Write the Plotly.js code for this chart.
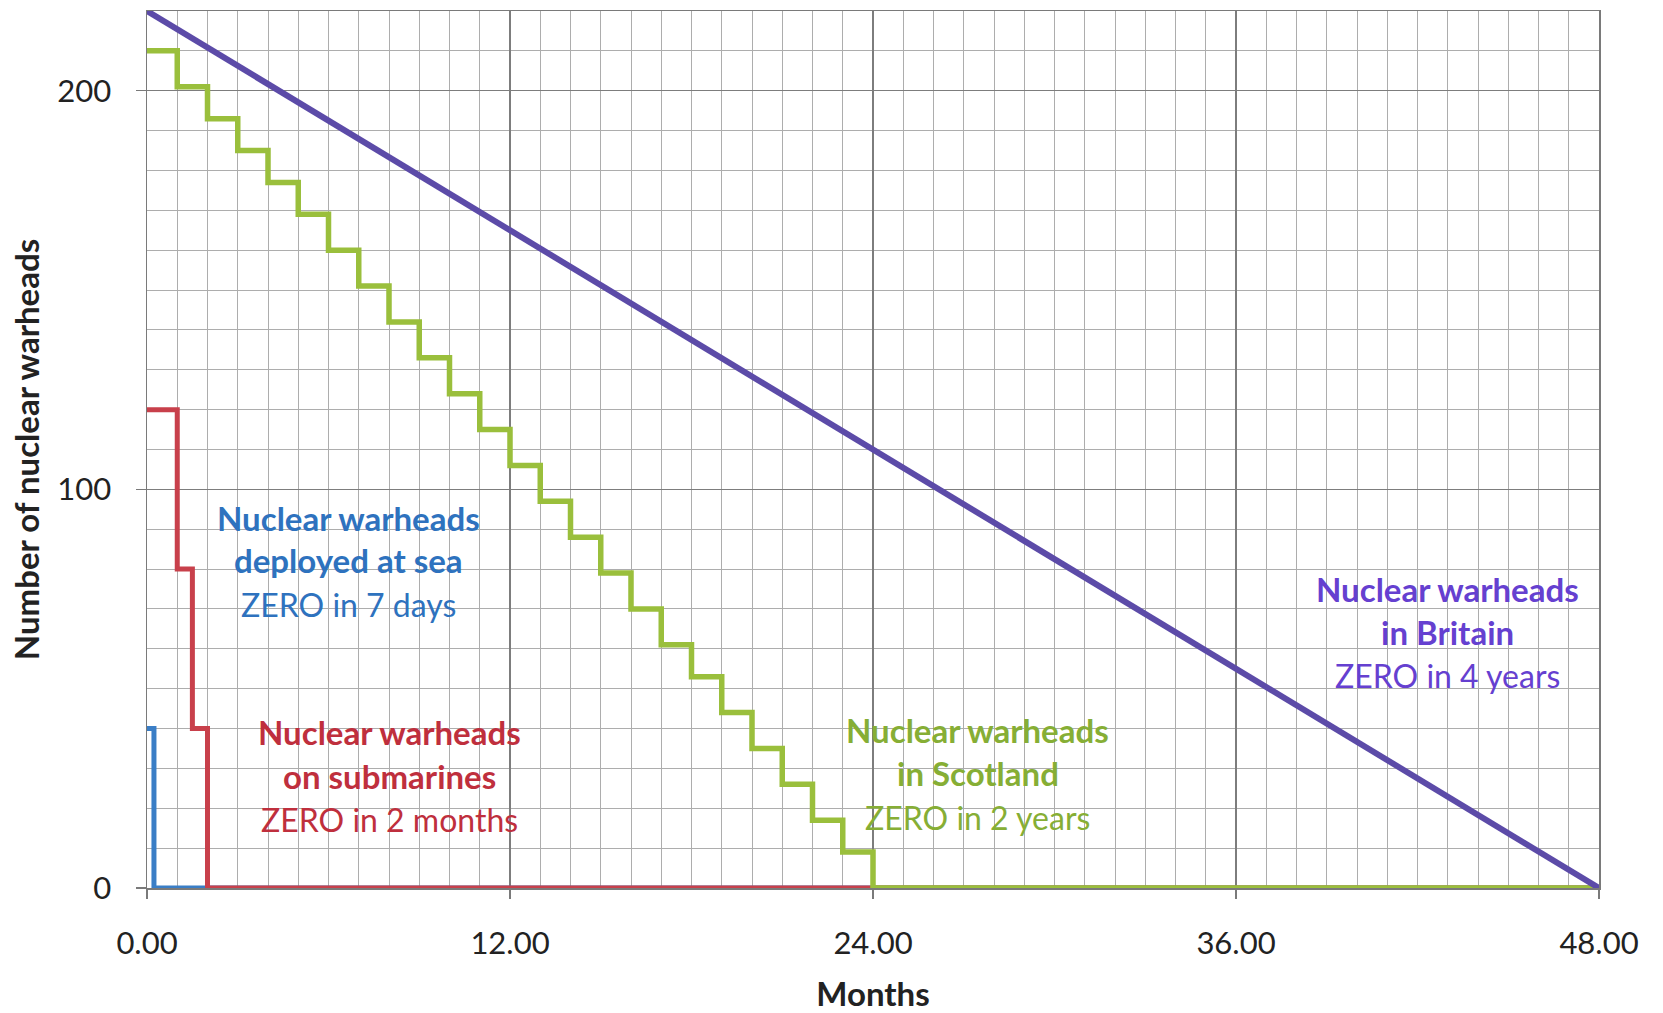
<!DOCTYPE html>
<html>
<head>
<meta charset="utf-8">
<script src="https://cdn.plot.ly/plotly-3.0.1.min.js"></script>
<style>html,body{margin:0;padding:0;background:#fff;}#chart{width:1663px;height:1013px;}</style>
</head>
<body>
<div id="chart"></div>
<script>
// Months for each series
const seaMonths = [0, 0.23, 48];
const seaWarheads = [40, 0, 0];

const subMonths = [0, 1, 1.5, 2, 48];
const subWarheads = [120, 80, 40, 0, 0];

const scotMonths = [0,1,2,3,4,5,6,7,8,9,10,11,12,13,14,15,16,17,18,19,20,21,22,23,24,48];
const scotWarheads = [210,201,193,185,177,169,160,151,142,133,124,115,106,97,88,79,70,61,53,44,35,26,17,9,0,0];

const britMonths = [0, 12, 24, 36, 48];
const britWarheads = [220, 165, 110, 55, 0];

const xTicks = [0, 12, 24, 36, 48];
const yTicks = [0, 100, 200];

const labelLines = {
  sea: ["<b>Nuclear warheads</b>", "<b>deployed at sea</b>", "ZERO in 7 days"],
  sub: ["<b>Nuclear warheads</b>", "<b>on submarines</b>", "ZERO in 2 months"],
  scot: ["<b>Nuclear warheads</b>", "<b>in Scotland</b>", "ZERO in 2 years"],
  brit: ["<b>Nuclear warheads</b>", "<b>in Britain</b>", "ZERO in 4 years"]
};
const labelPos = {
  sea: {x: 6.65, y: [92.9, 82.3, 71.1], color: "#2E72BE"},
  sub: {x: 8.0, y: [39.1, 28.2, 17.3], color: "#BF2F3D"},
  scot: {x: 27.46, y: [39.7, 28.8, 17.8], color: "#86AE35"},
  brit: {x: 43.0, y: [75.1, 64.2, 53.3], color: "#6540D0"}
};

const FONT = "Lato, 'Open Sans', sans-serif";

const traces = [
  {x: seaMonths, y: seaWarheads, mode: "lines", line: {shape: "hv", color: "#3A7EC6", width: 5}},
  {x: subMonths, y: subWarheads, mode: "lines", line: {shape: "hv", color: "#C8404B", width: 5}},
  {x: scotMonths, y: scotWarheads, mode: "lines", line: {shape: "hv", color: "#9ABF3C", width: 5.5}},
  {x: britMonths, y: britWarheads, mode: "lines", line: {color: "#5C4BA8", width: 6}}
];

const annotations = [];
Object.keys(labelLines).forEach(k => {
  labelLines[k].forEach((t, i) => {
    annotations.push({
      x: labelPos[k].x, y: labelPos[k].y[i], xref: "x", yref: "y",
      text: t, showarrow: false, xanchor: "center", yanchor: "middle",
      font: {family: FONT, size: i < 2 ? 33 : 32, color: labelPos[k].color}
    });
  });
});

const layout = {
  width: 1663, height: 1013,
  margin: {l: 147, r: 64, t: 11, b: 125},
  paper_bgcolor: "#ffffff", plot_bgcolor: "#ffffff",
  showlegend: false,
  font: {family: FONT, color: "#222"},
  xaxis: {
    range: [0, 48], tickvals: xTicks, tickformat: ".2f",
    ticks: "outside", ticklen: 9, tickcolor: "#7a7a7a", tickwidth: 1.5,
    showline: true, linecolor: "#7a7a7a", linewidth: 1.5, mirror: true,
    showgrid: true, gridcolor: "#7d7d7d", gridwidth: 1.5,
    minor: {dtick: 1, tick0: 0, showgrid: true, gridcolor: "#adadad", gridwidth: 1},
    zeroline: false,
    tickfont: {family: FONT, size: 31, color: "#222"},
    ticklabelstandoff: 18,
    title: {text: "<b>Months</b>", font: {family: FONT, size: 33, color: "#222"}, standoff: 23}
  },
  yaxis: {
    range: [0, 220], tickvals: yTicks,
    ticks: "outside", ticklen: 10, tickcolor: "#7a7a7a", tickwidth: 1.5,
    showline: true, linecolor: "#7a7a7a", linewidth: 1.5, mirror: true,
    showgrid: true, gridcolor: "#7d7d7d", gridwidth: 1.5,
    minor: {dtick: 10, tick0: 0, showgrid: true, gridcolor: "#adadad", gridwidth: 1},
    zeroline: false,
    tickfont: {family: FONT, size: 31, color: "#222"},
    ticklabelstandoff: 18,
    title: {text: "<b>Number of nuclear warheads</b>", font: {family: FONT, size: 33, color: "#222"}, standoff: 8}
  },
  annotations: annotations
};

Plotly.newPlot("chart", traces, layout, {displayModeBar: false, staticPlot: true});
</script>
</body>
</html>
